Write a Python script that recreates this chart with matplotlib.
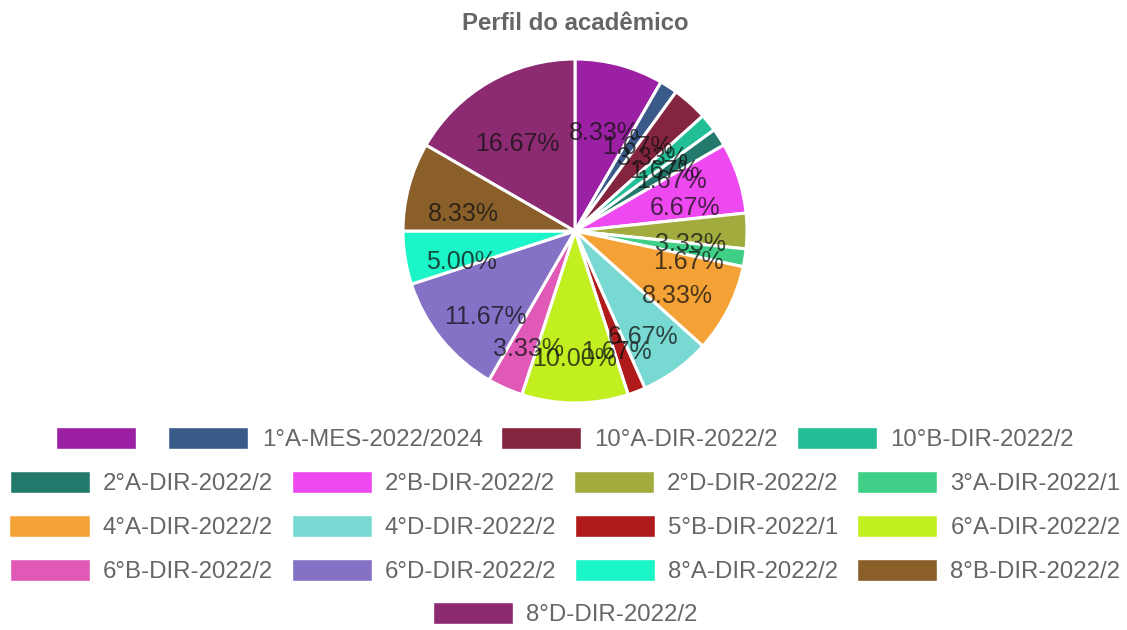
import matplotlib
matplotlib.use("Agg")
import matplotlib.pyplot as plt

labels = ["", "1°A-MES-2022/2024", "10°A-DIR-2022/2", "10°B-DIR-2022/2",
          "2°A-DIR-2022/2", "2°B-DIR-2022/2", "2°D-DIR-2022/2", "3°A-DIR-2022/1",
          "4°A-DIR-2022/2", "4°D-DIR-2022/2", "5°B-DIR-2022/1", "6°A-DIR-2022/2",
          "6°B-DIR-2022/2", "6°D-DIR-2022/2", "8°A-DIR-2022/2", "8°B-DIR-2022/2",
          "8°D-DIR-2022/2"]
counts = [5, 1, 2, 1, 1, 4, 2, 1, 5, 4, 1, 6, 2, 7, 3, 5, 10]
colors = ["#9C20A4", "#3A5B8A", "#85243F", "#22BF96", "#237A6C", "#EE48F0",
          "#A2AC3E", "#40CF86", "#F4A236", "#77D9D2", "#B01A1A", "#C1EF20",
          "#E159B7", "#8572C7", "#1CF5C8", "#8A5F2A", "#8C2A72"]
title = "Perfil do acadêmico"

FONT = ["Liberation Sans", "DejaVu Sans"]
plt.rcParams["font.family"] = FONT

W, H = 1127, 630
fig = plt.figure(figsize=(W / 100, H / 100), dpi=100)

cx, cy, r = 575, 231, 172
ax = fig.add_axes([(cx - r) / W, 1 - (cy + r) / H, 2 * r / W, 2 * r / H])
wedges, texts, autotexts = ax.pie(
    counts, colors=colors, startangle=90, counterclock=False,
    autopct="%1.2f%%", pctdistance=0.67,
    wedgeprops=dict(edgecolor="white", linewidth=2.2),
    textprops=dict(fontsize=18, color="#111111", alpha=0.75))
# labels sit slightly below their anchor point, as in the reference
for t in autotexts:
    x, y = t.get_position()
    t.set_position((x, y - 13 / r))
ax.set_xlim(-1, 1)
ax.set_ylim(-1, 1)
ax.set_aspect("equal")
ax.axis("off")

fig.text(cx / W, 1 - 23 / H, title, ha="center", va="center",
         fontsize=17.3, fontweight="bold", color="#666666")

rows = [list(range(0, 4)), list(range(4, 8)), list(range(8, 12)),
        list(range(12, 16)), [16]]
row_y = [439, 483, 527, 571, 614]
for idx, yy in zip(rows, row_y):
    leg = fig.legend([wedges[i] for i in idx], [labels[i] for i in idx],
                     loc="center", bbox_to_anchor=(565 / W, 1 - yy / H),
                     ncol=len(idx), frameon=False, fontsize=17.3,
                     handlelength=3.33, handleheight=1.0, handletextpad=0.55,
                     columnspacing=0.78, borderpad=0, borderaxespad=0)
    for t in leg.get_texts():
        t.set_color("#666666")
    for p in leg.get_patches():
        p.set_linewidth(1.0)
        p.set_edgecolor("#ffffff")

fig.savefig("out.png", dpi=100)
